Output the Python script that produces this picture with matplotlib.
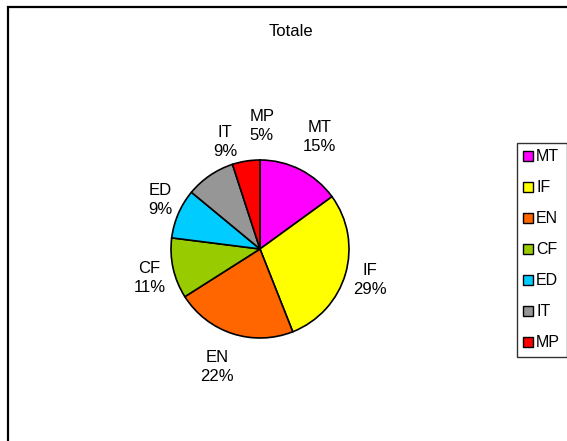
import matplotlib.pyplot as plt
from matplotlib.patches import Patch, Rectangle

plt.rcParams['font.family'] = ['Liberation Sans', 'DejaVu Sans']

# Share of total by area
categories = ['MT', 'IF', 'EN', 'CF', 'ED', 'IT', 'MP']
values = [15, 29, 22, 11, 9, 9, 5]
colors = ['#FF00FF', '#FFFF00', '#FF6600', '#99CC00', '#00CCFF', '#969696', '#FF0000']

# where each data label sits, in pie radii from the centre
label_xy = [(0.67, 1.26), (1.23, -0.35), (-0.48, -1.33), (-1.24, -0.33),
            (-1.12, 0.55), (-0.39, 1.20), (0.02, 1.38)]

W, H = 567, 441
fig = plt.figure(figsize=(W / 100, H / 100), dpi=100)

# pie centred at (260, 249) px, radius 89 px
cx, cy, r = 260, 249, 89
ax = fig.add_axes([(cx - r) / W, (H - cy - r) / H, 2 * r / W, 2 * r / H])

wedges, _ = ax.pie(values, colors=colors, startangle=90, counterclock=False,
                   wedgeprops=dict(edgecolor='black', linewidth=1.2))
ax.set_xlim(-1, 1)
ax.set_ylim(-1, 1)
ax.set_aspect('equal')

for (lx, ly), cat, v in zip(label_xy, categories, values):
    ax.text(lx, ly, f'{cat}\n{v}%', fontsize=12, ha='center', va='center',
            linespacing=1.35, clip_on=False)

fig.text(291 / W, 1 - 31 / H, 'Totale', fontsize=12, ha='center', va='center')

# outer chart border
fig.add_artist(Rectangle((7.5 / W, -0.2), 1.5, (H - 7) / H + 0.2,
                         transform=fig.transFigure, fill=False,
                         edgecolor='black', linewidth=1.6))

handles = [Patch(facecolor=c, edgecolor='black', linewidth=1) for c in colors]
leg = fig.legend(handles, categories, loc='upper left',
                 bbox_to_anchor=(517 / W, 1 - 143 / H), fontsize=11.5,
                 frameon=True, fancybox=False, edgecolor='black',
                 handlelength=0.6, handleheight=0.6, handletextpad=0.2,
                 labelspacing=1.0, borderpad=0.4, borderaxespad=0)
leg.get_frame().set_linewidth(1)

fig.savefig('out.png', dpi=100)
